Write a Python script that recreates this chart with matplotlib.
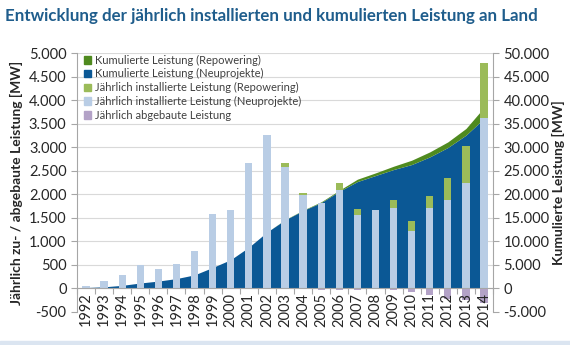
import matplotlib.pyplot as plt
import matplotlib.ticker as mticker
from matplotlib.patches import Patch
import numpy as np

plt.rcParams['font.family'] = ['Lato', 'DejaVu Sans']

years = list(range(1992, 2015))

# jährlich installierte Leistung [MW]
neu_jahr = [60, 150, 290, 490, 420, 525, 790, 1575, 1670, 2660, 3250, 2580, 1995,
            1808, 2100, 1568, 1660, 1717, 1220, 1710, 1887, 2242, 3624]
repower_jahr = [0, 0, 0, 0, 0, 0, 0, 0, 0, 0, 0, 85, 40,
                8, 140, 110, 10, 155, 213, 248, 460, 780, 1158]
abgebaut = [0, 0, 0, 0, 0, 0, 0, 0, 0, 0, 0, -20, -10,
            -30, -30, -45, -15, -36, -78, -135, -220, -255, -313]

# kumulierte Leistung [MW]
kum_neu = [180, 330, 640, 1140, 1550, 2080, 2870, 4440, 6100, 8750, 11950, 14550, 16550,
           18250, 20640, 22700, 23980, 25260, 26320, 27940, 29940, 32560, 36110]
kum_repower = [0, 0, 0, 0, 0, 0, 0, 0, 0, 0, 0, 50, 80,
               150, 210, 500, 560, 700, 920, 1060, 1190, 1420, 2340]

c_kum_rep = '#4f8a1f'
c_kum_neu = '#0b5895'
c_jahr_rep = '#9bbb59'
c_jahr_neu = '#b9cde5'
c_abgebaut = '#b3a2c7'


def de_fmt(v, pos):
    return f"{int(v):,}".replace(",", ".")


x = np.arange(len(years))
kum_neu = np.array(kum_neu)
kum_ges = kum_neu + np.array(kum_repower)

fig = plt.figure(figsize=(5.7, 3.45), dpi=100)
ax = fig.add_axes([0.135, 0.096, 0.73, 0.75])
ax2 = ax.twinx()

# Flächen für die kumulierte Leistung auf der rechten Achse
ax2.fill_between(x, 0, kum_neu, color=c_kum_neu, lw=0)
ax2.fill_between(x, kum_neu, kum_ges, color=c_kum_rep, lw=0)
ax2.set_ylim(-5000, 50000)
ax2.set_yticks(np.arange(-5000, 50001, 5000))
ax2.yaxis.set_major_formatter(mticker.FuncFormatter(de_fmt))
ax2.grid(axis='y', color='#d9d9d9', lw=0.8)
ax2.set_axisbelow(True)

# Balken für die jährliche Leistung vor den Flächen
ax.set_zorder(ax2.get_zorder() + 1)
ax.patch.set_visible(False)
w = 0.4
ax.bar(x, neu_jahr, w, color=c_jahr_neu)
ax.bar(x, repower_jahr, w, bottom=neu_jahr, color=c_jahr_rep)
ax.bar(x, abgebaut, w, color=c_abgebaut)
ax.set_ylim(-500, 5000)
ax.set_yticks(np.arange(-500, 5001, 500))
ax.yaxis.set_major_formatter(mticker.FuncFormatter(de_fmt))
ax.set_xlim(-0.45, len(years) - 0.55)

ax.spines['bottom'].set_position(('data', 0))
for a in (ax, ax2):
    a.spines['top'].set_visible(False)
    a.spines['bottom'].set_color('#a6a6a6')
    a.spines['left'].set_color('#a6a6a6')
    a.spines['right'].set_color('#a6a6a6')
    a.tick_params(axis='y', labelsize=10.5, colors='#a6a6a6', labelcolor='#262626',
                  length=4, width=0.8)
ax.spines['right'].set_visible(False)
ax2.spines['left'].set_visible(False)
ax2.spines['bottom'].set_visible(False)

ax.set_xticks(x)
ax.set_xticklabels([str(y) for y in years], rotation=90, fontsize=10.5, color='#262626')
ax.set_xticks(np.arange(-0.5, len(years), 1), minor=True)
ax.tick_params(axis='x', which='major', length=0, pad=3)
ax.tick_params(axis='x', which='minor', length=4, color='#a6a6a6', width=0.8)

ax.set_ylabel('Jährlich zu- / abgebaute Leistung [MW]', fontsize=10, fontweight='bold',
              color='#262626', labelpad=4)
ax2.set_ylabel('Kumulierte Leistung [MW]', fontsize=10, fontweight='bold',
               color='#262626', rotation=90, labelpad=2)

handles = [Patch(color=c_kum_rep), Patch(color=c_kum_neu), Patch(color=c_jahr_rep),
           Patch(color=c_jahr_neu), Patch(color=c_abgebaut)]
labels = ['Kumulierte Leistung (Repowering)', 'Kumulierte Leistung (Neuprojekte)',
          'Jährlich installierte Leistung (Repowering)',
          'Jährlich installierte Leistung (Neuprojekte)', 'Jährlich abgebaute Leistung']
ax.legend(handles, labels, loc='upper left', bbox_to_anchor=(0.0, 1.02), frameon=False,
          fontsize=8, handlelength=0.7, handleheight=0.7, handletextpad=0.3,
          labelspacing=0.25, borderaxespad=0.2, labelcolor='#404040')

fig.text(0.009, 0.955, 'Entwicklung der jährlich installierten und kumulierten Leistung an Land',
         fontsize=12.2, fontweight='bold', color='#1f5d8c', va='center', ha='left')

# heller Streifen am unteren Rand
fig.patches.append(plt.Rectangle((0, 0), 1, 0.012, transform=fig.transFigure,
                                 color='#dbe5f1', zorder=0))

fig.savefig('out.png', dpi=100)
